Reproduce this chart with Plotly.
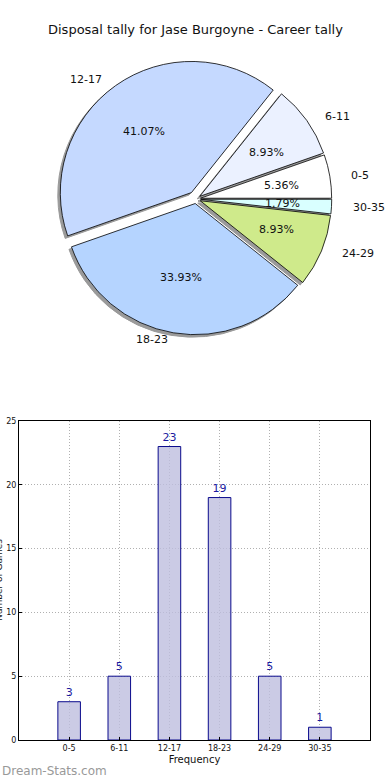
import math
import plotly.graph_objects as go

categories = ["0-5", "6-11", "12-17", "18-23", "24-29", "30-35"]
counts = [3, 5, 23, 19, 5, 1]
pie_colors = ["#ffffff", "#ebf1ff", "#c5d9ff", "#b5d4ff", "#cfea8b", "#d9ffff"]
pulls = [0.035, 0.035, 0.06, 0.035, 0.035, 0.035]
y_ticks = [0, 5, 10, 15, 20, 25]

W, H = 390, 780
total = sum(counts)

def px(x):
    return x / W

def py(y):
    return 1 - y / H

# pie geometry (pixels)
cx, cy = 196, 199
half = 139
maxpull = max(pulls)
r = half / (1 + maxpull)
# text placement radii (reference pie is slightly elliptical)
rx_t, ry_t = 137, 126
# plotly counterclockwise pies place the first slice clockwise of the rotation angle
rot = 90 - 360 * counts[0] / total

fig = go.Figure()

sh = 2.5
fig.add_trace(go.Pie(
    values=counts, labels=categories, sort=False, direction="counterclockwise",
    rotation=rot, pull=pulls, marker=dict(colors=["#9a9a9a"] * 6, line=dict(color="#9a9a9a", width=1)),
    textinfo="none", hoverinfo="skip", showlegend=False,
    domain=dict(x=[px(cx - half - sh), px(cx + half - sh)], y=[py(cy + half + sh), py(cy - half + sh)]),
))
fig.add_trace(go.Pie(
    values=counts, labels=categories, sort=False, direction="counterclockwise",
    rotation=rot, pull=pulls, marker=dict(colors=pie_colors, line=dict(color="#000000", width=0.8)),
    textinfo="none", showlegend=False,
    domain=dict(x=[px(cx - half), px(cx + half)], y=[py(cy + half), py(cy - half)]),
))

annotations = []
start = 0.0
for cat, v, p in zip(categories, counts, pulls):
    frac = v / total
    mid = (start + frac / 2) * 2 * math.pi
    start += frac
    dx, dy = math.cos(mid), -math.sin(mid)
    tx = cx + (p + 0.6) * rx_t * dx
    ty = cy + (p + 0.6) * ry_t * dy
    annotations.append(dict(x=px(tx), y=py(ty), xref="paper", yref="paper",
                            xanchor="center", yanchor="middle",
                            text=f"{frac*100:.2f}%", showarrow=False,
                            font=dict(size=11, color="#111111", family="DejaVu Sans")))
    lx = cx + (p + 1.1) * rx_t * dx
    ly = cy + (p + 1.1) * ry_t * dy
    annotations.append(dict(x=px(lx), y=py(ly), xref="paper", yref="paper",
                            text=cat, showarrow=False, yanchor="middle",
                            xanchor="left" if dx > 0 else "right",
                            font=dict(size=11, color="#111111", family="DejaVu Sans")))

annotations.append(dict(x=0.5, y=py(30), xref="paper", yref="paper",
                        xanchor="center", yanchor="middle",
                        text="Disposal tally for Jase Burgoyne - Career tally", showarrow=False,
                        font=dict(size=13, color="#111111", family="DejaVu Sans")))
annotations.append(dict(x=0, y=py(771), xref="paper", yref="paper", xanchor="left", yanchor="middle",
                        text="Dream-Stats.com", showarrow=False,
                        font=dict(size=12, color="#999999", family="DejaVu Sans")))
annotations.append(dict(x=px(-1), y=py(580), xref="paper", yref="paper",
                        xanchor="center", yanchor="middle",
                        text="Number of Games", textangle=-90, showarrow=False,
                        font=dict(size=9, color="#111111", family="DejaVu Sans")))

xs = list(range(len(categories)))
fig.add_trace(go.Bar(
    x=xs, y=counts, width=0.45, xaxis="x", yaxis="y",
    marker=dict(color="rgba(190,190,222,0.8)", line=dict(color="#0a0a8c", width=1)),
    text=[str(c) for c in counts], textposition="outside", cliponaxis=False,
    textfont=dict(size=11, color="#1a1aa0", family="DejaVu Sans"),
    showlegend=False,
))

axis_common = dict(showline=True, linecolor="#000000", linewidth=1, mirror=True,
                   showgrid=True, gridcolor="#b0b0b0", griddash="1px,2px", gridwidth=1,
                   zeroline=False, ticks="inside", ticklen=3, tickcolor="#000000",
                   automargin=False,
                   tickfont=dict(size=8, color="#111111", family="DejaVu Sans"))

fig.update_layout(
    width=W, height=H, margin=dict(l=0, r=0, t=0, b=0, autoexpand=False),
    paper_bgcolor="white", plot_bgcolor="white",
    annotations=annotations,
    xaxis=dict(domain=[px(19), px(370)], range=[-1, 6], tickvals=xs, ticktext=categories,
               title=dict(text="Frequency", font=dict(size=10, color="#111111", family="DejaVu Sans"), standoff=4),
               anchor="y", **axis_common),
    yaxis=dict(domain=[py(740), py(421)], range=[0, 25], tickvals=y_ticks, anchor="x",
               **axis_common),
    font=dict(family="DejaVu Sans"),
)

fig.write_html("out.html", config={"displayModeBar": False},
               post_script="document.body.style.margin='0';document.body.style.overflow='hidden';")
